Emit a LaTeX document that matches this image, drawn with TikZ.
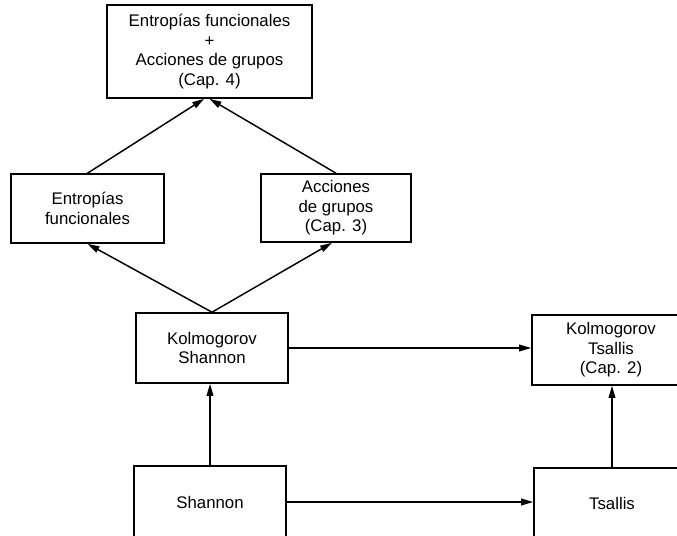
\documentclass[tikz,border=0pt]{standalone}
\usepackage{fontspec}
\setmainfont{Liberation Sans}
\usepackage{tikz}
\usetikzlibrary{arrows.meta}
\tikzstyle{box}=[rectangle,draw=black,line width=1.2pt,align=center,
                 font=\fontsize{12.6}{14.6}\selectfont,inner sep=2pt]
\tikzstyle{arrow}=[-{Triangle[length=9pt,width=5pt]},line width=1.1pt,draw=black]

\begin{document}
\begin{tikzpicture}[x=0.75pt,y=-0.75pt]
      \useasboundingbox (0,0) rectangle (677,535);
      \node[box,minimum width=153.75pt,minimum height=69.75pt] (tp) at (209.5,51.5)
           {Entropías funcionales\\+\\Acciones de grupos\\(Cap. 4)};
      \node[box,minimum width=114.75pt,minimum height=51.75pt] (ef) at (87.5,208.5)
           {Entropías\\funcionales};
      \node[box,minimum width=112.5pt,minimum height=51pt] (ag) at (336,208)
           {Acciones\\de grupos\\(Cap. 3)};
      \node[box,minimum width=114pt,minimum height=52.5pt] (ks) at (212,348)
           {Kolmogorov\\Shannon};
      \node[box,minimum width=118.5pt,minimum height=52.5pt] (kt) at (611,350)
           {Kolmogorov\\Tsallis\\(Cap. 2)};
      \node[box,minimum width=114pt,minimum height=54pt] (sh) at (210,502)
           {Shannon};
      \node[box,minimum width=117pt,minimum height=52.5pt] (ts) at (612,503)
           {Tsallis};

      \draw[arrow] (ef.north)--([xshift=-4pt]tp.south);
      \draw[arrow] (ag.north)--(tp.south);
      \draw[arrow] (ks.north)--(ef.south);
      \draw[arrow] (ks.north)--([xshift=-3pt]ag.south);
      \draw[arrow] (ks.east)--(ks.east -| kt.west);
      \draw[arrow] (sh.north)--(sh.north |- ks.south);
      \draw[arrow] (sh.east)--(sh.east -| ts.west);
      \draw[arrow] (ts.north)--(ts.north |- kt.south);
    \end{tikzpicture}
\end{document}
